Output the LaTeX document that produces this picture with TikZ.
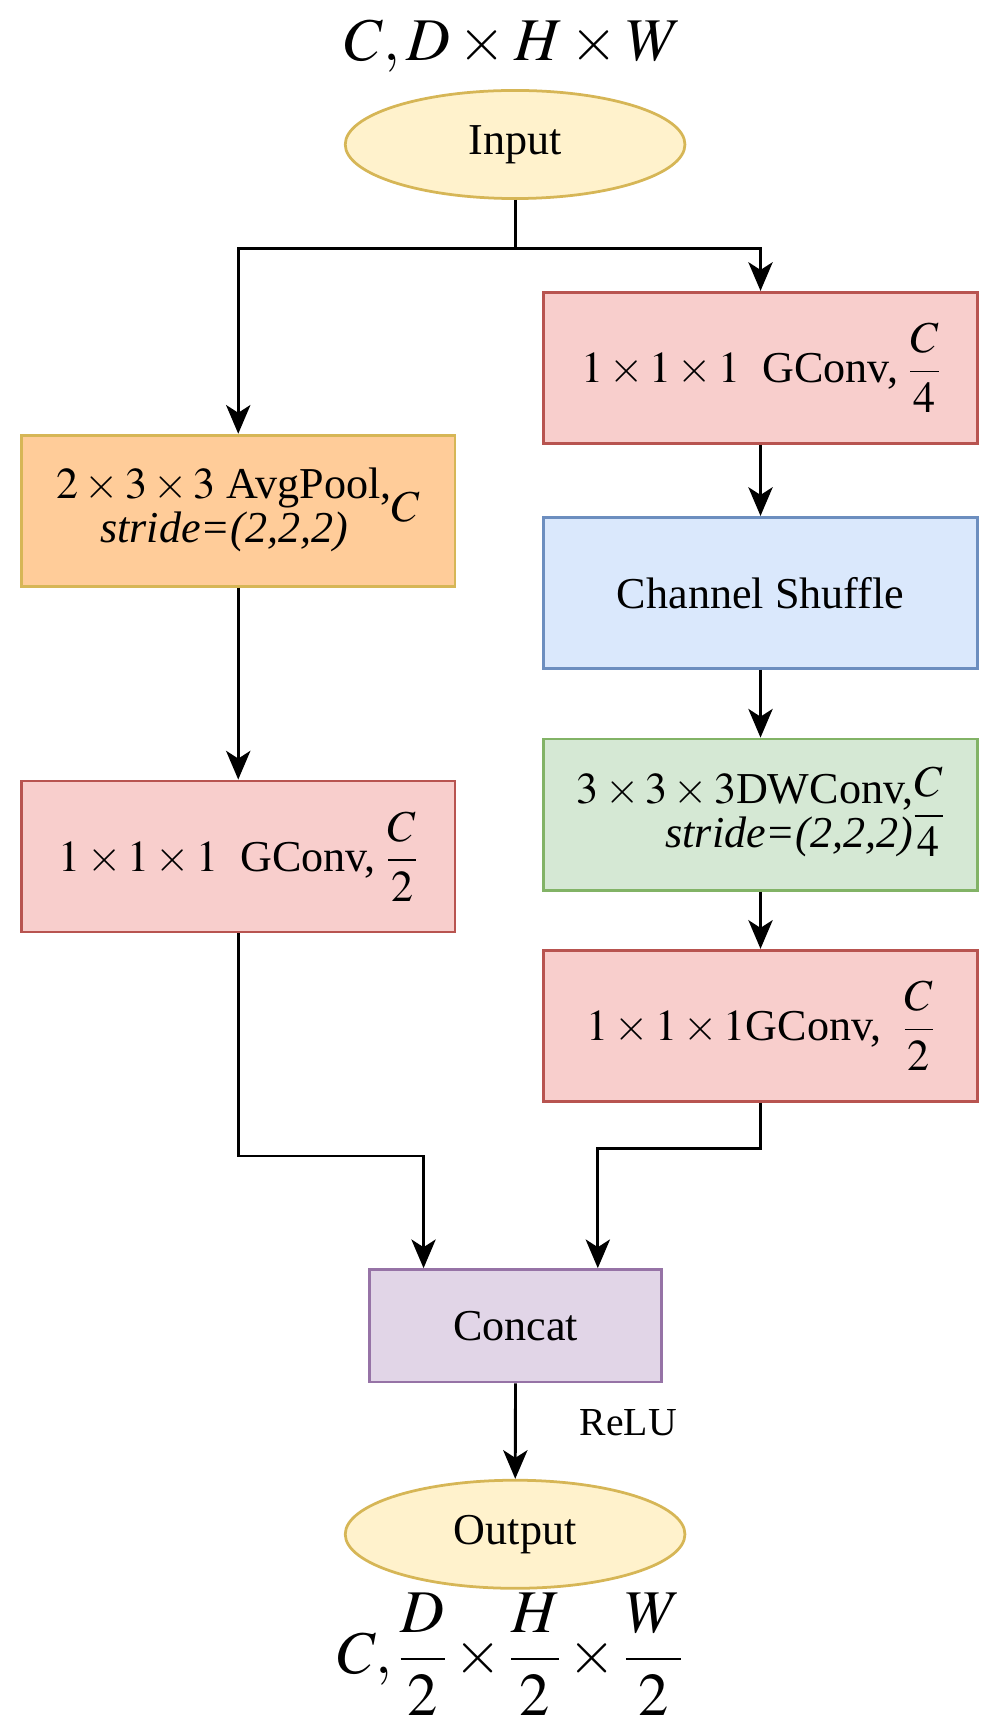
\documentclass[tikz,border=0pt]{standalone}
\usepackage{amsmath}
\usepackage{mathptmx}
\usepackage{fontspec}
\setmainfont{Liberation Serif}
\usetikzlibrary{shapes.geometric,arrows.meta}
\definecolor{yf}{HTML}{FFF2CC}\definecolor{ys}{HTML}{D6B656}
\definecolor{of}{HTML}{FFCC99}
\definecolor{rf}{HTML}{F8CECC}\definecolor{rs}{HTML}{B85450}
\definecolor{bf}{HTML}{DAE8FC}\definecolor{bs}{HTML}{6C8EBF}
\definecolor{gf}{HTML}{D5E8D4}\definecolor{gs}{HTML}{82B366}
\definecolor{pf}{HTML}{E1D5E7}\definecolor{ps}{HTML}{9673A6}
\begin{document}
\begin{tikzpicture}[x=1pt,y=-1pt,
  txt/.style={font=\fontsize{40}{44}\selectfont},
  box/.style={draw,line width=2.5pt,minimum width=393pt,minimum height=137pt,inner sep=0pt,txt,align=center},
  ell/.style={ellipse,draw=ys,fill=yf,line width=2.5pt,minimum width=308pt,minimum height=98pt,txt},
  arr/.style={line width=2.6pt,-{Stealth[length=26pt,width=22pt,inset=7pt]}},
  ln/.style={line width=2.6pt}]
\useasboundingbox (0,0) rectangle (906,1573);
\node[font=\fontsize{55}{60}\selectfont] (top) at (465,42) {$C, D\times H\times W$};
\node[ell] (in) at (467,131) {Input};
\node[box,draw=rs,fill=rf] (r1) at (689.5,333.5) {$1\times1\times1$~ GConv, $\dfrac{C}{4}$};
\node[box,draw=ys,fill=of] (l1) at (216,463) {$\begin{tabular}{@{}c@{}}$2\times3\times3$ AvgPool,\\[-4pt] \textit{stride=(2,2,2)}\end{tabular}C$};
\node[box,draw=bs,fill=bf] (r2) at (689.5,537.5) {Channel Shuffle};
\node[box,draw=gs,fill=gf] (r3) at (689.5,738.5) {$\begin{tabular}{@{}r@{}}$3\times3\times3$DWConv,\\[-4pt] \textit{stride=(2,2,2)}\end{tabular}\dfrac{C}{4}$};
\node[box,draw=rs,fill=rf] (l2) at (216,776.5) {$1\times1\times1$~ GConv, $\dfrac{C}{2}$};
\node[box,draw=rs,fill=rf] (r4) at (689.5,930) {$1\times1\times1$GConv, ~$\dfrac{C}{2}$};
\node[draw=ps,fill=pf,line width=2.5pt,minimum width=265pt,minimum height=102pt,txt] (cc) at (467.5,1202) {Concat};
\node[ell] (out) at (467,1391) {Output};
\node[font=\fontsize{55}{60}\selectfont] (bot) at (462,1500) {$C, \dfrac{D}{2}\times\dfrac{H}{2}\times\dfrac{W}{2}$};
\node[font=\fontsize{36}{40}\selectfont,anchor=west] (relu) at (522,1290) {ReLU};
\coordinate (j) at (467,225);
\draw[ln] (in.south) -- (j);
\draw[arr] (j) -| (l1.north);
\draw[arr] (j) -| (r1.north);
\draw[arr] (r1) -- (r2);
\draw[arr] (r2) -- (r3);
\draw[arr] (r3) -- (r4);
\draw[arr] (l1) -- (l2);
\coordinate (a) at (384,1048);
\coordinate (b) at (542,1041);
\draw[arr] (l2.south) |- (a) -- (cc.north -| a);
\draw[arr] (r4.south) |- (b) -- (cc.north -| b);
\draw[arr] (cc) -- (out);
\end{tikzpicture}
\end{document}
